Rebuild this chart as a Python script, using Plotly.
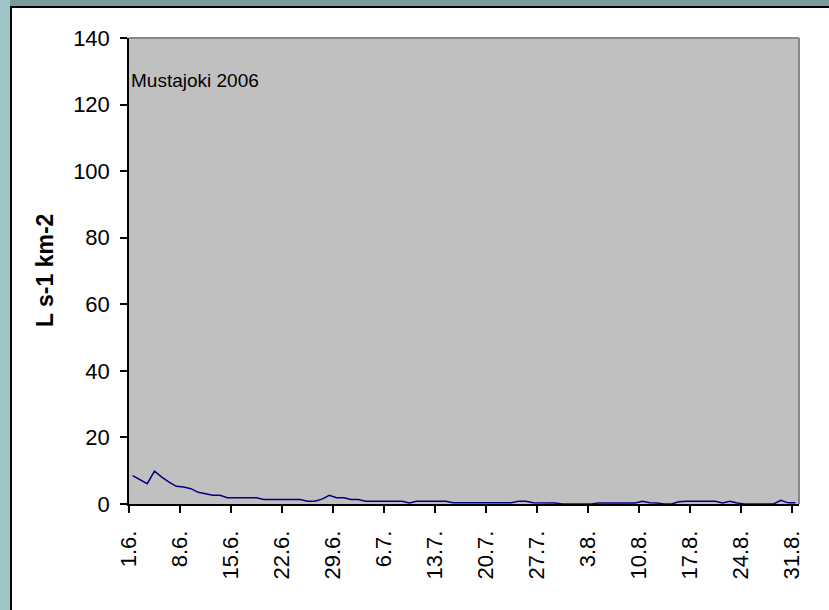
import plotly.graph_objects as go

# ---- data ----
days = list(range(92))  # 1.6. ... 31.8.
values = [8.5, 7.2, 6.1, 9.9, 8.1, 6.6, 5.3, 5.1, 4.6, 3.5,
          3.0, 2.6, 2.6, 1.9, 1.9, 1.9, 1.9, 1.9, 1.35, 1.35,
          1.35, 1.35, 1.35, 1.35, 0.85, 0.85, 1.45, 2.6, 1.9, 1.9,
          1.35, 1.35, 0.85, 0.85, 0.85, 0.85, 0.85, 0.85, 0.3, 0.85,
          0.85, 0.85, 0.85, 0.85, 0.35, 0.35, 0.35, 0.35, 0.35, 0.35,
          0.35, 0.35, 0.35, 0.85, 0.85, 0.35, 0.35, 0.35, 0.3, 0.0,
          0.0, 0.0, 0.0, 0.0, 0.3, 0.3, 0.3, 0.3, 0.3, 0.3,
          0.85, 0.35, 0.3, 0.0, 0.0, 0.7, 0.85, 0.85, 0.85, 0.85,
          0.85, 0.3, 0.85, 0.3, 0.0, 0.0, 0.0, 0.0, 0.0, 1.1,
          0.35, 0.35]
tick_days = [0, 7, 14, 21, 28, 35, 42, 49, 56, 63, 70, 77, 84, 91]
tick_labels = ["1.6.", "8.6.", "15.6.", "22.6.", "29.6.", "6.7.", "13.7.",
               "20.7.", "27.7.", "3.8.", "10.8.", "17.8.", "24.8.", "31.8."]
y_ticks = [0, 20, 40, 60, 80, 100, 120, 140]

W, H = 829, 610
L, R, T, B = 129, 30, 38, 106
pw, ph = W - L - R, H - T - B

def px(x):
    return (x - L) / pw

def py(y):
    return (H - B - y) / ph

FONT = "Arial, Liberation Sans, sans-serif"

fig = go.Figure()
fig.add_trace(go.Scatter(
    x=[d + 0.5 for d in days], y=values, mode="lines",
    line=dict(color="#000080", width=1.5), hoverinfo="skip", showlegend=False))

shapes = [
    dict(type="rect", xref="paper", yref="paper", x0=px(0), x1=px(W), y0=py(6), y1=py(0),
         fillcolor="#7C9B9E", line=dict(width=0), layer="below"),
    dict(type="rect", xref="paper", yref="paper", x0=px(0), x1=px(10), y0=py(H), y1=py(0),
         fillcolor="#9FC4C8", line=dict(width=0), layer="below"),
    dict(type="line", xref="paper", yref="paper", x0=px(10), x1=px(W), y0=py(7), y1=py(7),
         line=dict(color="black", width=2)),
    dict(type="line", xref="paper", yref="paper", x0=px(11), x1=px(11), y0=py(6), y1=py(H),
         line=dict(color="black", width=2)),
    dict(type="line", xref="paper", yref="paper", x0=0, x1=1, y0=1, y1=1,
         line=dict(color="#888888", width=2)),
    dict(type="line", xref="paper", yref="paper", x0=1, x1=1, y0=0, y1=1,
         line=dict(color="#888888", width=2)),
]

fig.update_layout(
    width=W, height=H,
    margin=dict(l=L, r=R, t=T, b=B),
    paper_bgcolor="white", plot_bgcolor="#C0C0C0",
    font=dict(family=FONT, size=22, color="black"),
    shapes=shapes,
    annotations=[
        dict(text="Mustajoki 2006", xref="paper", yref="paper", x=0, y=py(80),
             xanchor="left", yanchor="middle", showarrow=False,
             font=dict(family=FONT, size=19, color="black")),
        dict(text="<b>L s-1 km-2</b>", xref="paper", yref="paper", x=px(45), y=0.5,
             xanchor="center", yanchor="middle", textangle=-90, showarrow=False,
             font=dict(family=FONT, size=23, color="black")),
    ],
    xaxis=dict(range=[0, 92], tickmode="array", tickvals=tick_days, ticktext=tick_labels,
               tickangle=-90, ticks="outside", ticklen=7, tickwidth=1.5, tickcolor="black",
               showline=True, linecolor="black", linewidth=1.5, showgrid=False,
               zeroline=False, fixedrange=True, ticklabelstandoff=9),
    yaxis=dict(range=[0, 140], tickmode="array", tickvals=y_ticks, ticks="outside",
               ticklen=7, tickwidth=1.5, tickcolor="black", showline=True,
               linecolor="black", linewidth=1.5, showgrid=False, zeroline=False,
               fixedrange=True, ticklabelstandoff=6),
)

fig.write_html("out.html", config={"displayModeBar": False},
               post_script="document.body.style.margin='0';")
